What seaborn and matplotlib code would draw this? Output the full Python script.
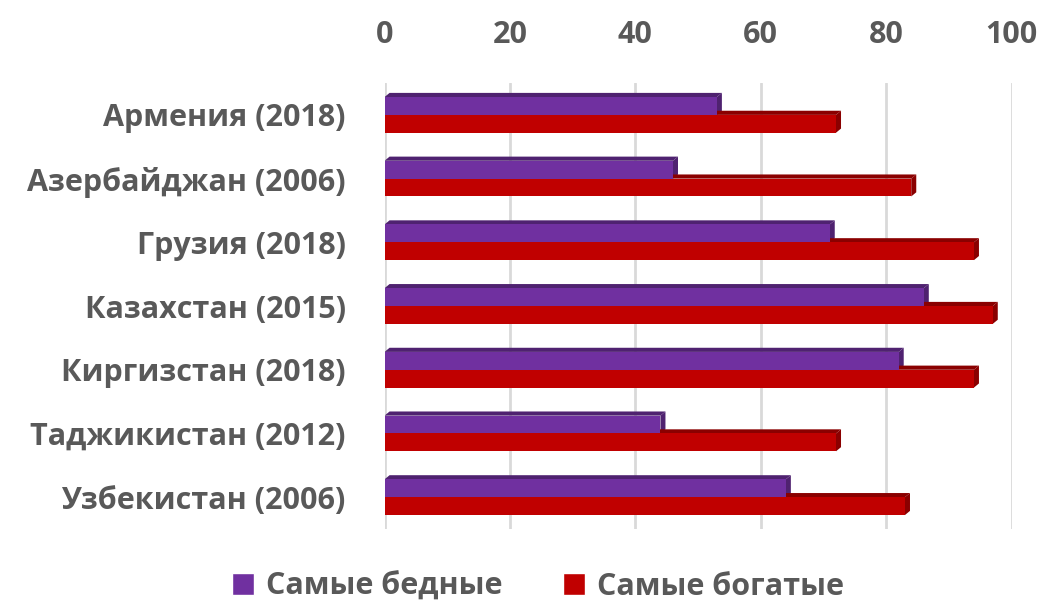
import numpy as np
import pandas as pd
import matplotlib
matplotlib.use('Agg')
import matplotlib.pyplot as plt
from matplotlib.patches import Polygon, Patch
import seaborn as sns

# data
countries = ['Армения (2018)', 'Азербайджан (2006)', 'Грузия (2018)', 'Казахстан (2015)',
             'Киргизстан (2018)', 'Таджикистан (2012)', 'Узбекистан (2006)']
poorest = [53, 46, 71, 86, 82, 44, 64]
richest = [72, 84, 94, 97, 94, 72, 83]
series_names = ['Самые бедные', 'Самые богатые']
x_ticks = [0, 20, 40, 60, 80, 100]

colors = ['#7030A0', '#C00000']
dark_colors = ['#4F2270', '#8A0000']
text_color = '#595959'

df = pd.DataFrame({
    'country': countries * 2,
    'value': poorest + richest,
    'group': [series_names[0]] * len(countries) + [series_names[1]] * len(countries),
})

sns.set_style('white')
plt.rcParams['font.family'] = ['Open Sans', 'DejaVu Sans']

fig = plt.figure(figsize=(10.45, 6.06), dpi=100)
ax = fig.add_axes([0.368, 0.127, 0.6, 0.736])

sns.barplot(data=df, y='country', x='value', hue='group', orient='h',
            palette=colors, width=0.56, ax=ax, legend=False, saturation=1,
            linewidth=0, zorder=3)

# fake 3D: top and side faces from each drawn bar
dx, dy = 0.8, 0.065
for i, bar in enumerate(ax.patches):
    x0 = bar.get_x()
    y0 = bar.get_y()
    w = bar.get_width()
    h = bar.get_height()
    c = dark_colors[0] if i < len(countries) else dark_colors[1]
    top = Polygon([(x0, y0), (x0 + dx, y0 - dy), (x0 + w + dx, y0 - dy), (x0 + w, y0)],
                  closed=True, facecolor=c, edgecolor='none', zorder=2)
    side = Polygon([(x0 + w, y0), (x0 + w + dx, y0 - dy), (x0 + w + dx, y0 + h - dy), (x0 + w, y0 + h)],
                   closed=True, facecolor=c, edgecolor='none', zorder=2)
    ax.add_patch(top)
    ax.add_patch(side)

ax.set_xlim(0, 100)
ax.set_xticks(x_ticks)
ax.xaxis.tick_top()
ax.tick_params(axis='x', length=0, pad=24, labelsize=22, labelcolor=text_color)
ax.tick_params(axis='y', length=0, pad=28, labelsize=22, labelcolor=text_color)
for lab in ax.get_xticklabels() + ax.get_yticklabels():
    lab.set_fontweight('bold')
ax.grid(axis='x', color='#D9D9D9', linewidth=2, zorder=0)
ax.set_axisbelow(True)
ax.set_xlabel('')
ax.set_ylabel('')
sns.despine(ax=ax, left=True, bottom=True, top=True, right=True)

handles = [Patch(facecolor=colors[0]), Patch(facecolor=colors[1])]
leg = fig.legend(handles, series_names, loc='center', bbox_to_anchor=(0.515, 0.032),
                 ncol=2, frameon=False, handlelength=0.7, handleheight=0.7,
                 handletextpad=0.4, columnspacing=2.0,
                 prop={'size': 22, 'weight': 'bold'})
for t in leg.get_texts():
    t.set_color(text_color)

fig.savefig('out.png', dpi=100)
